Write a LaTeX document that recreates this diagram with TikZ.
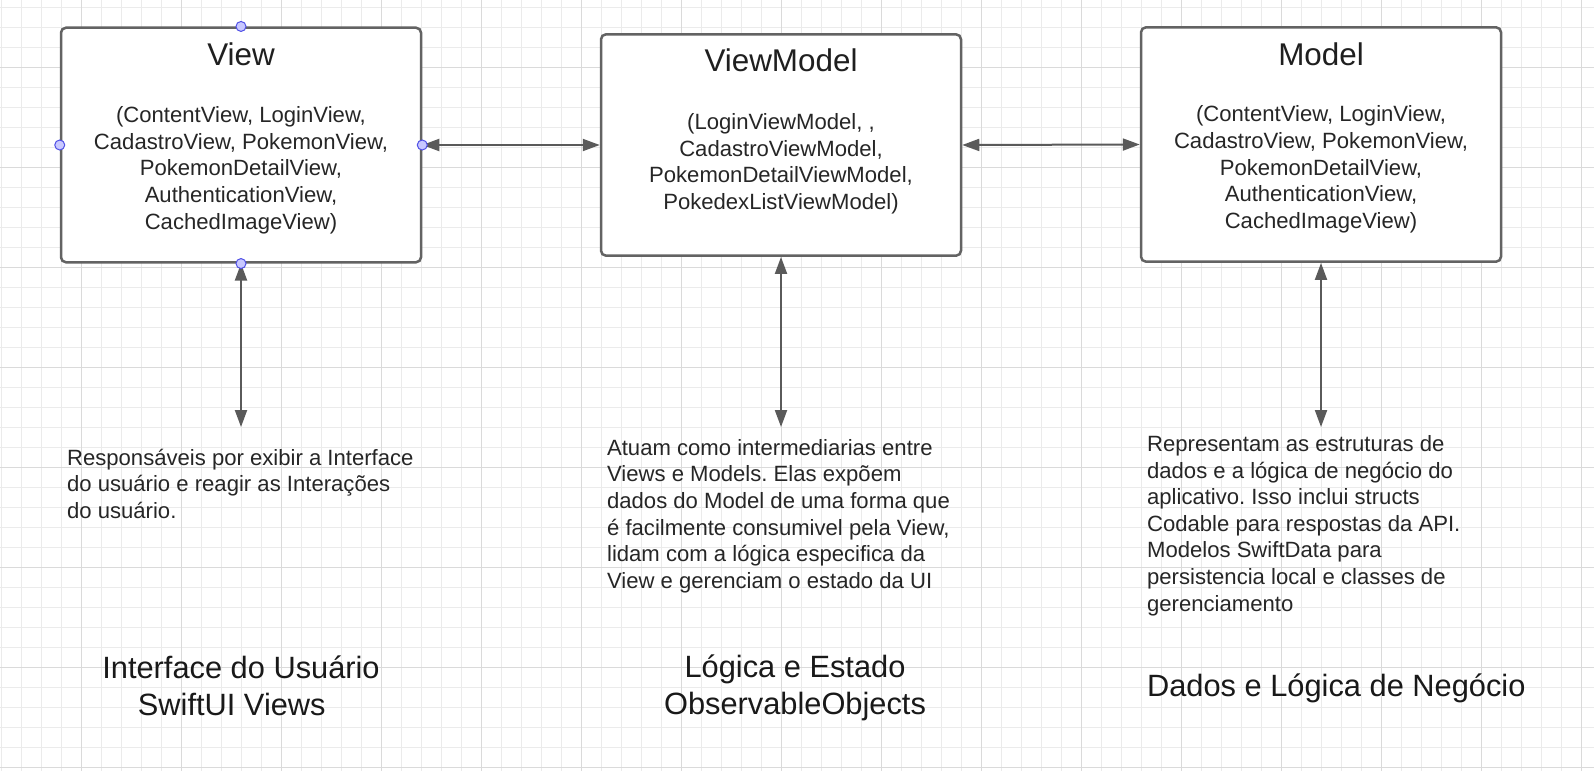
\documentclass[tikz,border=0pt]{standalone}
\usepackage{fontspec}
\setmainfont{Liberation Sans}
\usetikzlibrary{arrows.meta}
\frenchspacing
\definecolor{gridminor}{HTML}{EBEBEB}
\definecolor{gridmajor}{HTML}{DADADA}
\definecolor{boxline}{HTML}{636363}
\definecolor{arrowgray}{HTML}{5A5A5A}
\definecolor{handlefill}{HTML}{C8C8FF}
\definecolor{handleline}{HTML}{5050E6}
\definecolor{inkgray}{HTML}{262626}

\begin{document}
\begin{tikzpicture}[x=0.5pt,y=-0.5pt,
    layer/.style={draw=boxline, line width=1.25pt, rounded corners=2.5pt, fill=white,
        minimum width=180pt, inner sep=0pt},
    heading/.style={font=\fontsize{15.7}{18}\selectfont, text=black!88, anchor=base, inner sep=0pt},
    listing/.style={font=\fontsize{11.05}{13.3}\selectfont, text=inkgray, align=center, anchor=base, inner sep=0pt},
    note/.style={font=\fontsize{11.05}{13.3}\selectfont, text=inkgray, align=left, anchor=base west, inner sep=0pt},
    caption/.style={font=\fontsize{15.4}{18.35}\selectfont, text=black!90, align=center, anchor=base, inner sep=0pt},
    link/.style={draw=arrowgray, line width=1pt,
        {Triangle[length=8.5pt,width=6pt]}-{Triangle[length=8.5pt,width=6pt]}},
    handle/.style={draw=handleline, fill=handlefill, line width=0.5pt}]

        \useasboundingbox (0,0) rectangle (1594,771);
        \fill[white] (0,0) rectangle (1594,771);

        % Grid
        \foreach \x in {1.7,21.7,...,1594}
            \draw[gridminor, line width=0.5pt] (\x,0) -- (\x,771);
        \foreach \y in {7.3,27.3,...,771}
            \draw[gridminor, line width=0.5pt] (0,\y) -- (1594,\y);
        \foreach \x in {81.7,181.7,...,1594}
            \draw[gridmajor, line width=0.6pt] (\x,0) -- (\x,771);
        \foreach \y in {67.3,167.3,...,771}
            \draw[gridmajor, line width=0.6pt] (0,\y) -- (1594,\y);

        % Boxes
        \node[layer, minimum height=117.3pt] (view) at (241,145) {};
        \node[layer, minimum height=110.7pt] (vmodel) at (781,145) {};
        \node[layer, minimum height=117.2pt] (model) at (1321,144.5) {};

        % Box texts (base = last line)
        \node[heading] (viewtitle) at (241,65) {View};
        \node[listing] (viewlist) at (241,229) {(ContentView, LoginView,\\ CadastroView, PokemonView,\\ PokemonDetailView,\\ AuthenticationView,\\ CachedImageView)};
        \node[heading] (vmodeltitle) at (781,71.7) {ViewModel};
        \node[listing] (vmodellist) at (781,209.2) {(LoginViewModel, ,\\ CadastroViewModel,\\ PokemonDetailViewModel,\\ PokedexListViewModel)};
        \node[heading] (modeltitle) at (1321,65) {Model};
        \node[listing] (modellist) at (1321,228.3) {(ContentView, LoginView,\\ CadastroView, PokemonView,\\ PokemonDetailView,\\ AuthenticationView,\\ CachedImageView)};

        % Connectors
        \draw[link] (view.east) -- (vmodel.west);
        \draw[link] (vmodel.east) -- (model.west);
        \coordinate (viewend) at (241,427);
        \coordinate (vmodelend) at (781,427);
        \coordinate (modelend) at (1321,427);
        \draw[link] (view.south) -- (viewend);
        \draw[link] (vmodel.south) -- (vmodelend);
        \draw[link] (model.south) -- (modelend);

        % Handles
        \foreach \a in {north,south,east,west}
            \draw[handle] (view.\a) circle (2.5pt);

        % Descriptions
        \node[note] (viewnote) at (66.7,518.3) {Responsáveis por exibir a Interface\\ do usuário e reagir as Interações\\ do usuário.};
        \node[note] (vmodelnote) at (606.7,588.3) {Atuam como intermediarias entre\\ Views e Models. Elas expõem\\ dados do Model de uma forma que\\ é facilmente consumivel pela View,\\ lidam com a lógica especifica da\\ View e gerenciam o estado da UI};
        \node[note] (modelnote) at (1146.7,611) {Representam as estruturas de\\ dados e a lógica de negócio do\\ aplicativo. Isso inclui structs\\ Codable para respostas da API.\\ Modelos SwiftData para\\ persistencia local e classes de\\ gerenciamento};

        % Layer captions
        \node[caption] (viewcap) at (241,715) {Interface do Usuário\\ SwiftUI Views\hspace*{0.6em}};
        \node[caption] (vmodelcap) at (795,714) {Lógica e Estado\\ ObservableObjects};
        \node[caption, anchor=base west] (modelcap) at (1146.7,696.7) {Dados e Lógica de Negócio};

    \end{tikzpicture}
\end{document}
